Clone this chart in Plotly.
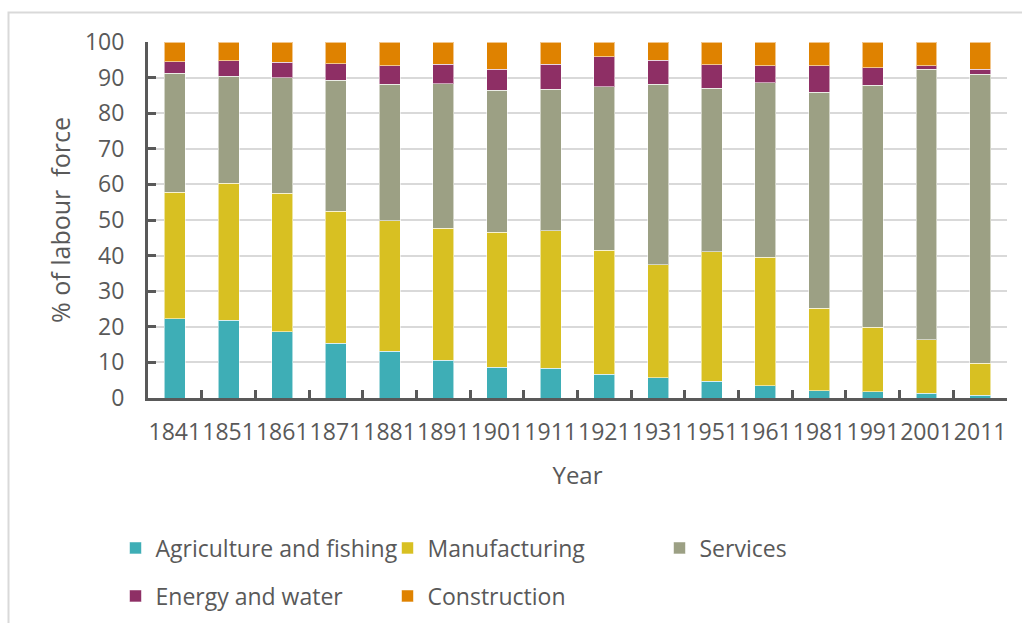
import plotly.graph_objects as go

# Census years and share of the labour force (%) by sector
years = ["1841", "1851", "1861", "1871", "1881", "1891", "1901", "1911",
         "1921", "1931", "1951", "1961", "1981", "1991", "2001", "2011"]

agriculture = [22.2, 21.8, 18.6, 15.4, 13.2, 10.6, 8.7, 8.3,
               6.7, 5.7, 4.7, 3.4, 2.1, 1.7, 1.3, 0.8]
manufacturing = [35.6, 38.5, 38.9, 37.0, 36.6, 37.1, 37.8, 38.7,
                 34.8, 31.7, 36.4, 36.2, 23.1, 18.2, 15.1, 8.9]
services = [33.4, 30.1, 32.4, 36.9, 38.4, 40.6, 39.9, 39.7,
            46.0, 50.7, 45.9, 49.0, 60.7, 68.0, 75.9, 81.2]
energy = [3.2, 4.3, 4.4, 4.6, 5.1, 5.4, 6.0, 7.1,
          8.3, 6.8, 6.6, 4.7, 7.4, 4.8, 1.0, 1.4]
construction = [5.6, 5.3, 5.7, 6.1, 6.7, 6.3, 7.6, 6.2,
                4.2, 5.1, 6.4, 6.7, 6.7, 7.3, 6.7, 7.7]

FONT = "Open Sans"
TEXT = "#595959"
AXIS = "#595959"
GRID = "#d9d9d9"

series = [
    ("Agriculture and fishing", agriculture, "#3eaeb6", "legend"),
    ("Manufacturing", manufacturing, "#d8c022", "legend"),
    ("Services", services, "#9ca084", "legend"),
    ("Energy and water", energy, "#8e2f65", "legend2"),
    ("Construction", construction, "#df8200", "legend2"),
]

fig = go.Figure()
for name, vals, color, leg in series:
    fig.add_trace(go.Bar(
        x=years, y=vals, name=name, legend=leg,
        marker=dict(color=color, line=dict(color="rgba(255,255,255,0.55)", width=1)),
    ))

W, H = 1022, 623
L, R, T, B = 148, 15, 42, 225
pw, ph = W - L - R, H - T - B


def px_x(p):
    return (p - L) / pw


def px_y(p):
    return (H - B - p) / ph


legend_common = dict(
    orientation="h", xanchor="left", yanchor="middle",
    entrywidth=227, entrywidthmode="pixels",
    font=dict(family=FONT, size=23, color=TEXT),
    bgcolor="rgba(0,0,0,0)", traceorder="normal",
)

fig.update_layout(
    width=W, height=H,
    margin=dict(l=L, r=R, t=T, b=B, autoexpand=False),
    barmode="stack", bargap=0.61,
    plot_bgcolor="white", paper_bgcolor="white",
    font=dict(family=FONT, color=TEXT),
    legend=dict(x=px_x(115.5), y=px_y(548), **legend_common),
    legend2=dict(x=px_x(115.5), y=px_y(596), **legend_common),
    xaxis=dict(
        type="category", tickson="boundaries", tickangle=0,
        ticks="inside", ticklen=8, tickwidth=3, tickcolor=AXIS,
        showline=True, linecolor=AXIS, linewidth=3,
        showgrid=False,
        tickfont=dict(family=FONT, size=23, color=TEXT),
        ticklabelstandoff=11,
        title=dict(text="Year", font=dict(family=FONT, size=24, color=TEXT), standoff=22),
    ),
    yaxis=dict(
        range=[0, 100], dtick=10,
        ticks="inside", ticklen=8, tickwidth=3, tickcolor=AXIS,
        showline=True, linecolor=AXIS, linewidth=3,
        showgrid=True, gridcolor=GRID, gridwidth=2,
        zeroline=False,
        tickfont=dict(family=FONT, size=23, color=TEXT),
        ticklabelstandoff=16,
        title=dict(text="% of labour\u00a0 force", font=dict(family=FONT, size=25, color=TEXT), standoff=8),
    ),
    shapes=[
        # outer chart frame (top and left edges visible)
        dict(type="rect", xref="paper", yref="paper", layer="below",
             x0=px_x(8.5), x1=px_x(1040), y0=px_y(640), y1=px_y(12.5),
             line=dict(color=GRID, width=2), fillcolor="rgba(0,0,0,0)"),
    ],
)

fig.write_html("out.html")
